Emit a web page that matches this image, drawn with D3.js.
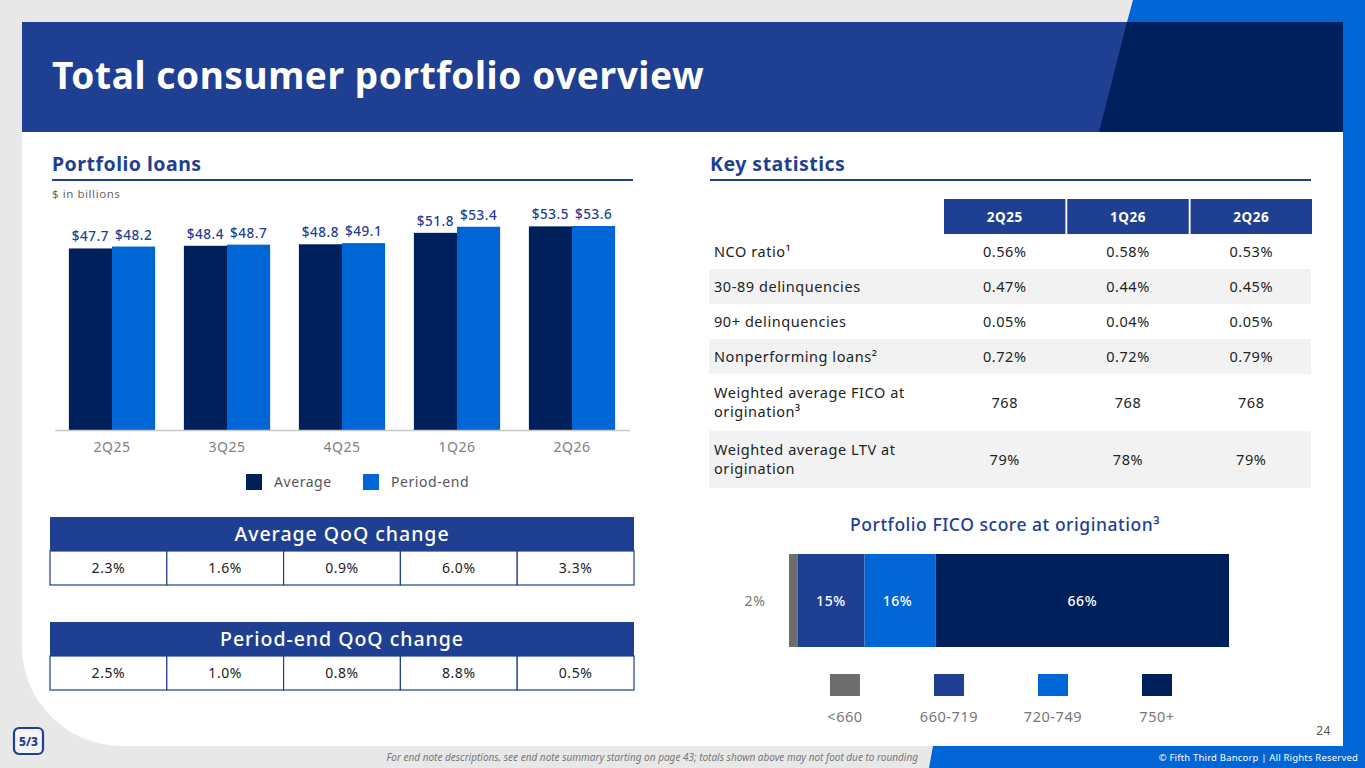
<!DOCTYPE html>
<html>
<head>
<meta charset="utf-8">
<script src="https://cdn.jsdelivr.net/npm/d3@7"></script>
<style>
  html, body { margin: 0; padding: 0; background: #e8e8e8; }
  svg { display: block; font-family: "Noto Sans", "Open Sans", sans-serif; letter-spacing: 0.035em; }
</style>
</head>
<body>
<svg id="slide" width="1365" height="768"></svg>
<script>
// chart data
const quarters = ["2Q25", "3Q25", "4Q25", "1Q26", "2Q26"];
const averageLoans = [47.7, 48.4, 48.8, 51.8, 53.5];
const periodEndLoans = [48.2, 48.7, 49.1, 53.4, 53.6];
const seriesNames = ["Average", "Period-end"];

const avgQoqChange = ["2.3%", "1.6%", "0.9%", "6.0%", "3.3%"];
const periodEndQoqChange = ["2.5%", "1.0%", "0.8%", "8.8%", "0.5%"];

const statColumns = ["2Q25", "1Q26", "2Q26"];
const statLabels = [
  ["NCO ratio¹"],
  ["30-89 delinquencies"],
  ["90+ delinquencies"],
  ["Nonperforming loans²"],
  ["Weighted average FICO at", "origination³"],
  ["Weighted average LTV at", "origination"]
];
const statValues = [
  ["0.56%", "0.58%", "0.53%"],
  ["0.47%", "0.44%", "0.45%"],
  ["0.05%", "0.04%", "0.05%"],
  ["0.72%", "0.72%", "0.79%"],
  ["768", "768", "768"],
  ["79%", "78%", "79%"]
];

const ficoBands = ["<660", "660-719", "720-749", "750+"];
const ficoShares = [2, 15, 16, 66];

// palette
const navy = "#00205b";
const brand = "#1f3f93";
const bright = "#0066d6";
const grey = "#6d6d6d";

const svg = d3.select("#slide");

// ---- slide frame ----
svg.append("rect").attr("width", 1365).attr("height", 768).attr("fill", "#e8e8e8");
svg.append("path")
  .attr("d", "M1133,0 L1365,0 L1365,768 L929,768 L933,746 L1343,746 L1343,22 L1127,22 Z")
  .attr("fill", bright);
svg.append("path")
  .attr("d", "M22,22 L1343,22 L1343,746 L122,746 A100,100 0 0 1 22,646 Z")
  .attr("fill", "#fff");
svg.append("rect").attr("x", 22).attr("y", 22).attr("width", 1321).attr("height", 110).attr("fill", brand);
svg.append("path").attr("d", "M1127,22 L1343,22 L1343,132 L1099,132 Z").attr("fill", navy);

svg.append("text").attr("x", 52).attr("y", 89)
  .attr("fill", "#fff").attr("font-size", 37).attr("font-weight", 700)
  .attr("letter-spacing", "0.016em")
  .text("Total consumer portfolio overview");

// section titles
[["Portfolio loans", 52, 633], ["Key statistics", 710, 1311]].forEach(([t, x0, x1]) => {
  svg.append("text").attr("x", x0).attr("y", 171)
    .attr("fill", brand).attr("font-size", 19.5).attr("font-weight", 700)
    .attr("letter-spacing", "0.025em").text(t);
  svg.append("line").attr("x1", x0).attr("x2", x1).attr("y1", 180).attr("y2", 180)
    .attr("stroke", brand).attr("stroke-width", 2);
});
svg.append("text").attr("x", 52).attr("y", 198).attr("fill", "#666").attr("font-size", 11.5).text("$ in billions");

// ---- portfolio loans bar chart ----
const x = d3.scaleBand().domain(quarters).range([54.5, 629.5]).paddingInner(0.25).paddingOuter(0.125);
const xs = d3.scaleBand().domain(seriesNames).range([0, x.bandwidth()]);
const y = d3.scaleLinear().domain([0, 53.6]).range([430, 226]);
const color = d3.scaleOrdinal().domain(seriesNames).range([navy, bright]);

const rows = quarters.map((q, i) => ({ q, values: [averageLoans[i], periodEndLoans[i]] }));

const groups = svg.append("g").selectAll("g").data(rows).enter().append("g")
  .attr("transform", d => `translate(${x(d.q)},0)`);

groups.selectAll("rect").data(d => d.values.map((v, j) => ({ key: seriesNames[j], v })))
  .enter().append("rect")
  .attr("x", d => xs(d.key)).attr("width", xs.bandwidth())
  .attr("y", d => y(d.v)).attr("height", d => y(0) - y(d.v))
  .attr("fill", d => color(d.key));

groups.selectAll("text").data(d => d.values.map((v, j) => ({ key: seriesNames[j], v })))
  .enter().append("text")
  .attr("x", d => xs(d.key) + xs.bandwidth() / 2).attr("y", d => y(d.v) - 7)
  .attr("text-anchor", "middle").attr("fill", brand).attr("font-size", 13.5).attr("font-weight", 500)
  .text(d => `$${d.v.toFixed(1)}`);

const xAxis = svg.append("g").attr("transform", "translate(0,430)")
  .call(d3.axisBottom(x).tickSize(0).tickPadding(12));
xAxis.select(".domain").attr("stroke", "#c8c8c8").attr("stroke-width", 1.5);
xAxis.selectAll(".tick text").attr("font-size", 14).attr("fill", "#808080")
  .attr("font-family", "Noto Sans").attr("letter-spacing", "0.04em");

// legend
const legend = svg.append("g").attr("transform", "translate(246,474)");
seriesNames.forEach((s, i) => {
  const g = legend.append("g").attr("transform", `translate(${i * 117},0)`);
  g.append("rect").attr("width", 16).attr("height", 16).attr("fill", color(s));
  g.append("text").attr("x", 28).attr("y", 13).attr("font-size", 14).attr("fill", "#555").text(s);
});

// ---- QoQ change tables ----
function qoqTable(title, values, top) {
  const cx = d3.scaleBand().domain(d3.range(values.length)).range([50, 634]);
  const g = svg.append("g");
  g.append("rect").attr("x", 50).attr("y", top).attr("width", 584).attr("height", 34).attr("fill", brand);
  g.append("text").attr("x", 342).attr("y", top + 24).attr("text-anchor", "middle")
    .attr("fill", "#fff").attr("font-size", 19.5).attr("font-weight", 500)
    .attr("letter-spacing", "0.05em").text(title);
  const cells = g.selectAll("g.cell").data(values).enter().append("g").attr("class", "cell");
  cells.append("rect").attr("x", (d, i) => cx(i)).attr("y", top + 34)
    .attr("width", cx.bandwidth()).attr("height", 34)
    .attr("fill", "#fff").attr("stroke", brand).attr("stroke-width", 1.2);
  cells.append("text").attr("x", (d, i) => cx(i) + cx.bandwidth() / 2).attr("y", top + 56)
    .attr("text-anchor", "middle").attr("fill", "#222").attr("font-size", 14).text(d => d);
}
qoqTable("Average QoQ change", avgQoqChange, 517);
qoqTable("Period-end QoQ change", periodEndQoqChange, 622);

// ---- key statistics table ----
const col = d3.scaleBand().domain(statColumns).range([944, 1312]).paddingInner(0.015);
const rowHeights = [35, 35, 35, 35, 57, 57];
let rowTop = 234;
const statHead = svg.append("g");
statHead.selectAll("rect").data(statColumns).enter().append("rect")
  .attr("x", d => col(d)).attr("y", 199).attr("width", col.bandwidth()).attr("height", 35).attr("fill", brand);
statHead.selectAll("text").data(statColumns).enter().append("text")
  .attr("x", d => col(d) + col.bandwidth() / 2).attr("y", 221.5).attr("text-anchor", "middle")
  .attr("fill", "#fff").attr("font-size", 13.5).attr("font-weight", 700).text(d => d);

statLabels.forEach((lines, r) => {
  const h = rowHeights[r];
  const g = svg.append("g");
  if (r % 2 === 1) {
    g.append("rect").attr("x", 709).attr("y", rowTop).attr("width", 602).attr("height", h).attr("fill", "#f2f2f2");
  }
  const mid = rowTop + h / 2;
  lines.forEach((ln, k) => {
    g.append("text").attr("x", 714).attr("y", mid + 5 + (k - (lines.length - 1) / 2) * 19)
      .attr("font-size", 14.5).attr("fill", "#222").text(ln);
  });
  g.selectAll("text.v").data(statValues[r]).enter().append("text").attr("class", "v")
    .attr("x", (d, i) => col(statColumns[i]) + col.bandwidth() / 2).attr("y", mid + 5)
    .attr("text-anchor", "middle").attr("font-size", 14.5).attr("fill", "#222").text(d => d);
  rowTop += h;
});

// ---- FICO distribution ----
svg.append("text").attr("x", 1005).attr("y", 531).attr("text-anchor", "middle")
  .attr("fill", brand).attr("font-size", 17.5).attr("font-weight", 500)
  .attr("letter-spacing", "0.03em").text("Portfolio FICO score at origination³");

const fx = d3.scaleLinear().domain([0, d3.sum(ficoShares)]).range([789, 1229]);
const ficoColor = d3.scaleOrdinal().domain(ficoBands).range([grey, brand, bright, navy]);
const cum = d3.cumsum(ficoShares);
const segs = ficoBands.map((b, i) => ({ band: b, v: ficoShares[i], start: cum[i] - ficoShares[i], end: cum[i] }));

const fg = svg.append("g");
fg.selectAll("rect").data(segs).enter().append("rect")
  .attr("x", d => fx(d.start)).attr("width", d => fx(d.end) - fx(d.start))
  .attr("y", 554).attr("height", 93).attr("fill", d => ficoColor(d.band));
fg.selectAll("text").data(segs).enter().append("text")
  .attr("x", d => d.v < 5 ? fx(d.start) - 34 : (d.v < 20 ? fx(d.start) + 33 : (fx(d.start) + fx(d.end)) / 2))
  .attr("y", 606).attr("text-anchor", "middle").attr("font-size", 14)
  .attr("font-weight", d => d.v < 5 ? 400 : 500)
  .attr("fill", d => d.v < 5 ? "#777" : "#fff").text(d => `${d.v}%`);

const lx = d3.scalePoint().domain(ficoBands).range([845, 1157]);
const fl = svg.append("g");
fl.selectAll("rect").data(ficoBands).enter().append("rect")
  .attr("x", d => lx(d) - 15).attr("y", 674).attr("width", 30).attr("height", 22).attr("fill", d => ficoColor(d));
fl.selectAll("text").data(ficoBands).enter().append("text")
  .attr("x", d => lx(d)).attr("y", 722).attr("text-anchor", "middle")
  .attr("font-size", 14.5).attr("fill", "#777").text(d => d);

// ---- footer ----
svg.append("text").attr("x", 1331).attr("y", 735).attr("text-anchor", "end")
  .attr("font-size", 12).attr("fill", "#555").text("24");
svg.append("text").attr("x", 918).attr("y", 761).attr("text-anchor", "end")
  .attr("font-size", 10).attr("font-style", "italic").attr("fill", "#777").attr("letter-spacing", "0")
  .text("For end note descriptions, see end note summary starting on page 43; totals shown above may not foot due to rounding");
svg.append("text").attr("x", 1358).attr("y", 761).attr("text-anchor", "end")
  .attr("font-size", 9.5).attr("fill", "#fff").attr("letter-spacing", "0.02em")
  .text("© Fifth Third Bancorp | All Rights Reserved");

const logo = svg.append("g").attr("transform", "translate(14,728)");
logo.append("rect").attr("width", 29).attr("height", 26).attr("rx", 5)
  .attr("fill", "#f4f4f4").attr("stroke", brand).attr("stroke-width", 2.2);
logo.append("text").attr("x", 14.5).attr("y", 18).attr("text-anchor", "middle").attr("letter-spacing", 0)
  .attr("font-size", 12).attr("font-weight", 800).attr("fill", brand).text("5/3");
</script>
</body>
</html>
